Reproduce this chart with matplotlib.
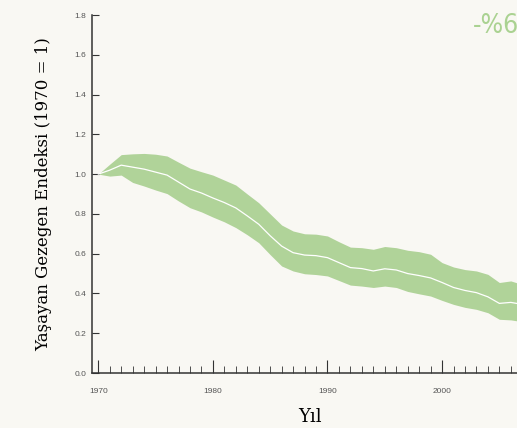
import matplotlib.pyplot as plt
from matplotlib.ticker import MultipleLocator

years = list(range(1970, 2008))

index_mid = [1.00, 1.02, 1.045, 1.035, 1.025, 1.01, 0.995, 0.96, 0.925, 0.905,
             0.88, 0.857, 0.83, 0.79, 0.748, 0.69, 0.638, 0.605, 0.593, 0.59,
             0.58, 0.555, 0.53, 0.525, 0.513, 0.524, 0.518, 0.50, 0.49, 0.478,
             0.455, 0.43, 0.415, 0.404, 0.383, 0.35, 0.355, 0.345]

index_upper = [1.00, 1.05, 1.098, 1.102, 1.104, 1.10, 1.091, 1.06, 1.03, 1.012,
               0.995, 0.97, 0.945, 0.90, 0.856, 0.80, 0.744, 0.714, 0.70, 0.698,
               0.689, 0.66, 0.633, 0.63, 0.622, 0.636, 0.63, 0.617, 0.61, 0.597,
               0.555, 0.533, 0.52, 0.513, 0.496, 0.455, 0.463, 0.445]

index_lower = [1.00, 0.99, 0.995, 0.958, 0.94, 0.92, 0.902, 0.865, 0.831, 0.81,
               0.784, 0.76, 0.731, 0.695, 0.655, 0.595, 0.538, 0.513, 0.499, 0.495,
               0.488, 0.465, 0.442, 0.437, 0.43, 0.437, 0.43, 0.41, 0.398, 0.387,
               0.365, 0.345, 0.33, 0.32, 0.303, 0.27, 0.267, 0.258]

xticks = [1970, 1980, 1990, 2000, 2010]
yticks = [0.0, 0.2, 0.4, 0.6, 0.8, 1.0, 1.2, 1.4, 1.6, 1.8]

bg = "#f9f8f3"
green = "#b0d399"

fig = plt.figure(figsize=(5.17, 4.28), dpi=100, facecolor=bg)
ax = fig.add_axes([92 / 517, 55 / 428, 436 / 517, 358 / 428])
ax.set_facecolor(bg)

# bant + orta çizgi
ax.fill_between(years, index_lower, index_upper, color=green, linewidth=0)
ax.plot(years, index_mid, color="white", linewidth=0.9)

ax.set_xticks(xticks)
ax.xaxis.set_minor_locator(MultipleLocator(1))
ax.set_yticks(yticks)
ax.set_yticklabels([f"{v:.1f}" for v in yticks])
# set_xticks genişletiyor, limitleri sonra ver
ax.set_xlim(1969.45, 2007.5)
ax.set_ylim(0, 1.8)

for s in ["top", "right"]:
    ax.spines[s].set_visible(False)
for s in ["left", "bottom"]:
    ax.spines[s].set_color("#333333")
    ax.spines[s].set_linewidth(1.1)

ax.tick_params(axis="x", which="major", direction="in", length=9.5, width=0.8,
               color="#333333", labelsize=6, labelcolor="#555555", pad=10.5)
ax.tick_params(axis="x", which="minor", direction="in", length=5, width=0.6,
               color="#333333")
ax.tick_params(axis="y", direction="in", length=5, width=0.8, color="#333333",
               labelsize=6, labelcolor="#555555", pad=4.3)
for lab in ax.get_xticklabels() + ax.get_yticklabels():
    lab.set_family("Liberation Sans")

ax.set_xlabel("Yıl", family="DejaVu Serif", fontsize=13, labelpad=10)
ax.set_ylabel("Yaşayan Gezegen Endeksi (1970 = 1)", family="DejaVu Serif",
              fontsize=12, labelpad=16)

fig.text(473 / 517, (428 - 33) / 428, "-%66", color="#aad291", fontsize=19,
         family="DejaVu Sans", fontstretch="condensed", va="baseline")

fig.savefig("out.png", dpi=100, facecolor=bg)
